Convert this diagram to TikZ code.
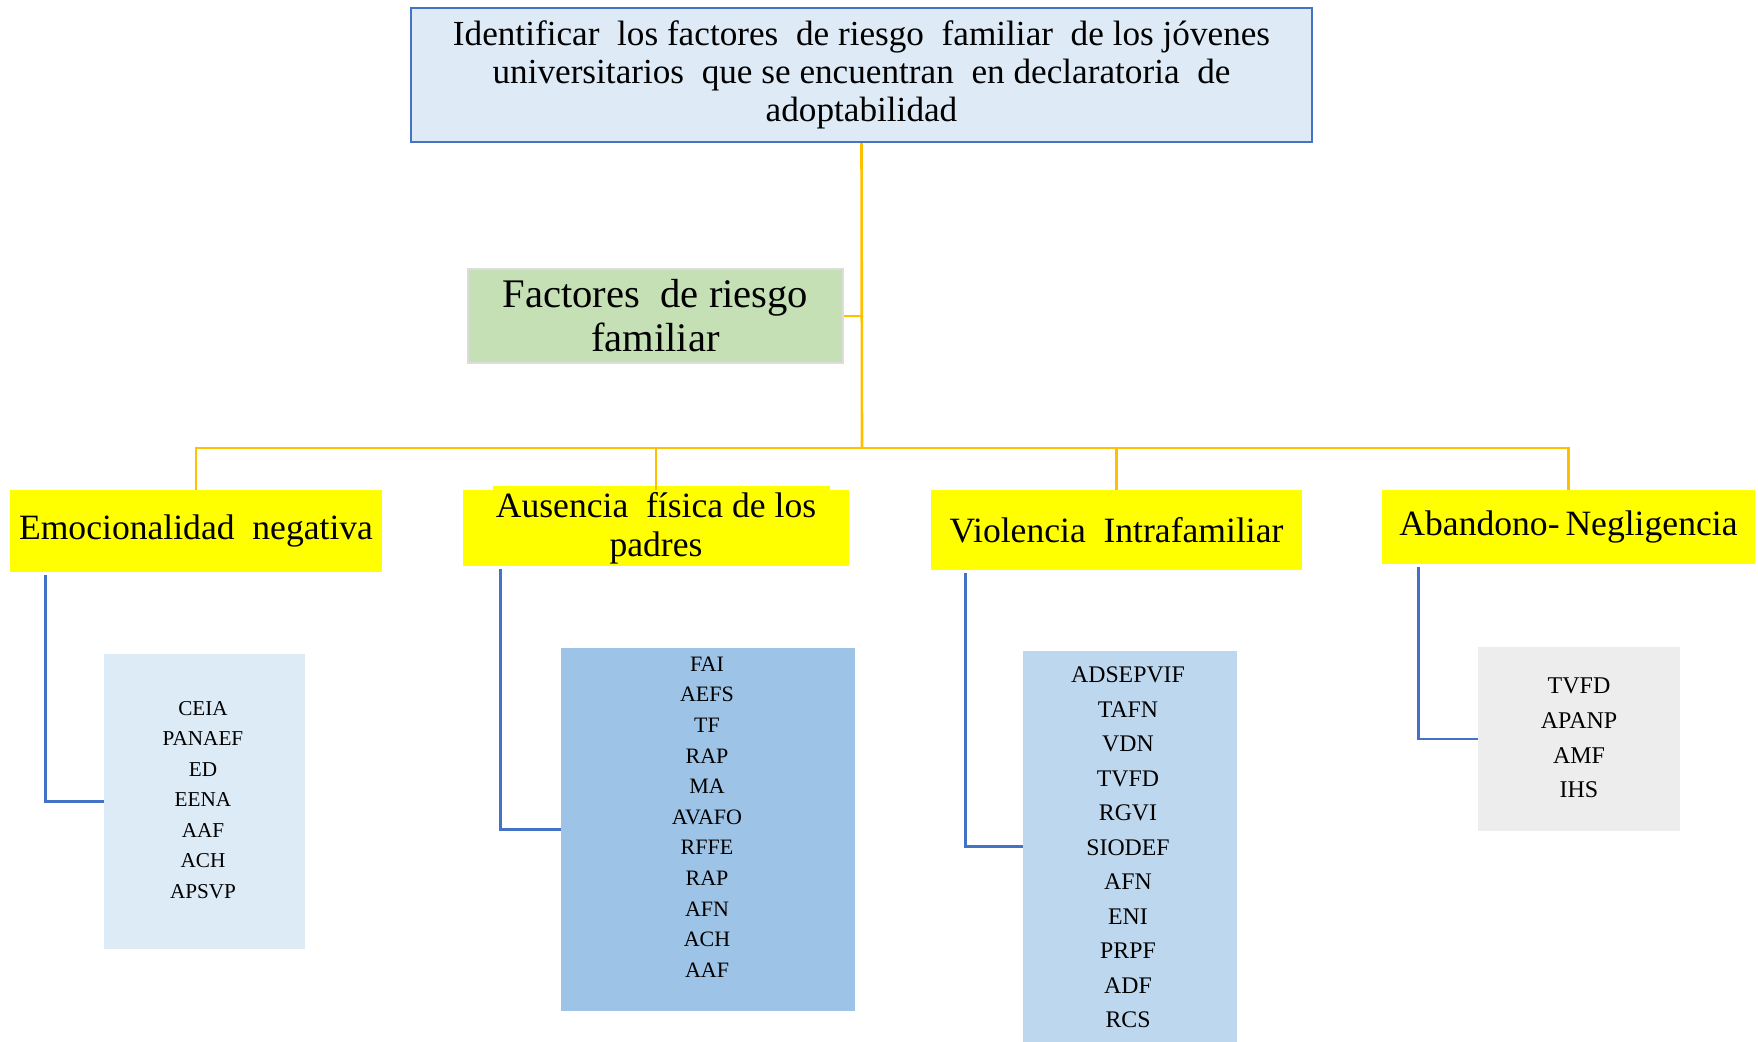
\documentclass[tikz,border=0pt]{standalone}
\usepackage{fontspec}
\setmainfont{Liberation Serif}
\definecolor{topfill}{HTML}{DEEBF7}
\definecolor{topdraw}{HTML}{4472C4}
\definecolor{greenfill}{HTML}{C5E0B4}
\definecolor{greendraw}{HTML}{DCDCDC}
\definecolor{yel}{HTML}{FFFF00}
\definecolor{orangeline}{HTML}{FFC000}
\definecolor{blueline}{HTML}{4472C4}
\definecolor{listA}{HTML}{DDEBF7}
\definecolor{listB}{HTML}{9DC3E6}
\definecolor{listC}{HTML}{BDD7EE}
\definecolor{listD}{HTML}{EDEDED}
\tikzset{
  box/.style={rectangle, inner sep=0pt, align=center},
  catbox/.style={box, fill=yel, font=\fontsize{17.8}{19.5}\selectfont},
  listbox/.style={box},
  listtext/.style={align=center, inner sep=0pt},
  orange conn/.style={draw=orangeline, line width=1.3pt},
  blue conn/.style={draw=blueline, line width=1.2pt},
}
\begin{document}
\begin{tikzpicture}[x=0.5pt,y=-0.5pt]
\useasboundingbox (0,0) rectangle (1758,1042);
% top box
\node[box, fill=topfill, draw=topdraw, line width=1.2pt, minimum width=450.5pt, minimum height=67pt,
  font=\fontsize{17.6}{19}\selectfont] (top) at (861.5,75)
  {Identificar\ \ los factores\ \ de riesgo\ \ familiar\ \ de los jóvenes\\
   universitarios\ \ que se encuentran\ \ en declaratoria\ \ de\\
   adoptabilidad};
% green box
\node[box, fill=greenfill, draw=greendraw, line width=0.8pt, minimum width=187.5pt, minimum height=47pt,
  font=\fontsize{20.3}{22}\selectfont] (green) at (655.5,316)
  {Factores\ \ de riesgo\\ familiar};
% category boxes
\fill[yel] (493,486) rectangle (830,492);
\node[catbox, minimum width=186pt, minimum height=41pt] (emo) at (196,531) {Emocionalidad\ \ negativa};
\node[catbox, minimum width=193pt, minimum height=38pt] (aus) at (656,528) {Ausencia\ \ física de los\\ padres};
\node[catbox, minimum width=185.5pt, minimum height=40pt] (vio) at (1116.5,530) {Violencia\ \ Intrafamiliar};
\node[catbox, minimum width=186.5pt, minimum height=37pt] (aba) at (1568.5,527) {Abandono-\,Negligencia};
% list boxes
\node[listbox, fill=listA, minimum width=100.5pt, minimum height=147.5pt] (emol) at (204.5,801.5) {};
\node[listtext, font=\fontsize{10.6}{15.25}\selectfont] (emot) at (203,800)
  {CEIA\\PANAEF\\ED\\EENA\\AAF\\ACH\\APSVP};
\node[listbox, fill=listB, minimum width=147pt, minimum height=181.5pt] (ausl) at (708,829.5) {};
\node[listtext, font=\fontsize{11}{15.3}\selectfont] (aust) at (707,817)
  {FAI\\AEFS\\TF\\RAP\\MA\\AVAFO\\RFFE\\RAP\\AFN\\ACH\\AAF};
\node[listbox, fill=listC, minimum width=107pt, minimum height=195.5pt] (viol) at (1130,846.5) {};
\node[listtext, font=\fontsize{11.9}{17.25}\selectfont] (viot) at (1128,847.5)
  {ADSEPVIF\\TAFN\\VDN\\TVFD\\RGVI\\SIODEF\\AFN\\ENI\\PRPF\\ADF\\RCS};
\node[listbox, fill=listD, minimum width=101pt, minimum height=92pt] (abal) at (1579,739) {};
\node[listtext, font=\fontsize{12}{17.3}\selectfont] (abat) at (1579,738)
  {TVFD\\APANP\\AMF\\IHS};
% orange connectors
\coordinate (hub) at (862,448);
\draw[orange conn] (top.south) -- (hub);
\draw[orange conn] (green.east) -- (green.east -| hub);
\draw[orange conn] (emo.north) |- (hub) -| (aba.north);
\draw[orange conn] (aus.north) -- (aus.north |- hub);
\draw[orange conn] (vio.north) -- (vio.north |- hub);
% blue connectors
\draw[blue conn] ([xshift=18pt,yshift=-1.5pt]emo.south west) |- (emol.west);
\draw[blue conn] ([xshift=19pt,yshift=-1.5pt]aus.south west) |- (ausl.west);
\draw[blue conn] ([xshift=17.5pt,yshift=-1.5pt]vio.south west) |- (viol.west);
\draw[blue conn] ([xshift=18.5pt,yshift=-1.5pt]aba.south west) |- (abal.west);
\end{tikzpicture}
\end{document}
